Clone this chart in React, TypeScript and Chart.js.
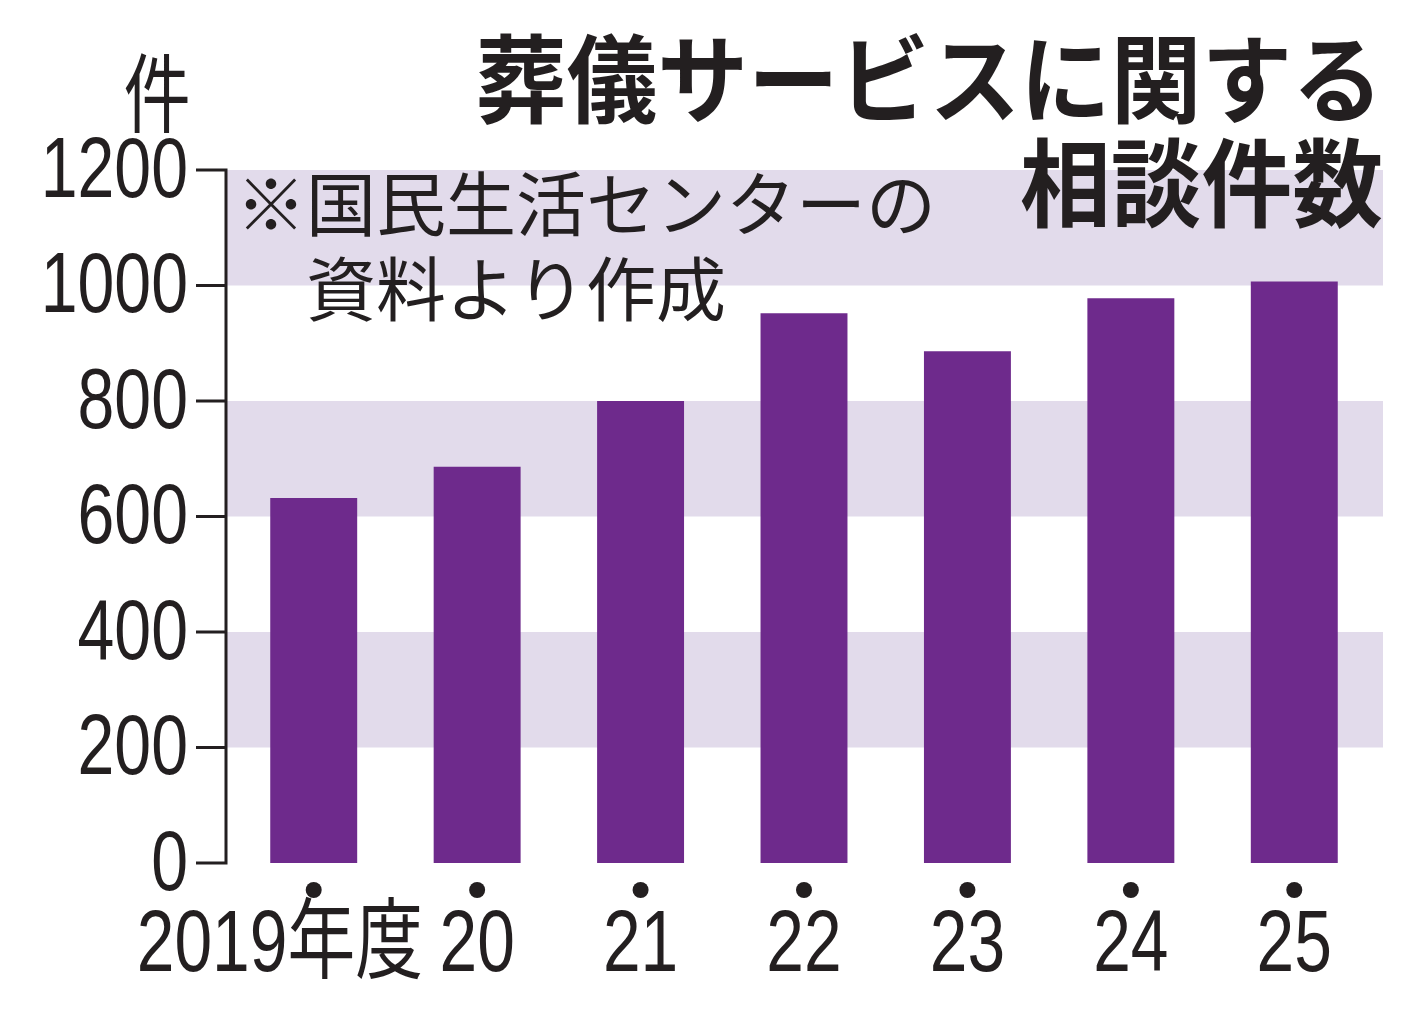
import { useEffect, useRef } from "react"
import { Chart, registerables } from "chart.js"

Chart.register(...registerables)

// 葬儀サービスに関する相談件数 (国民生活センター)
const years = ["2019年度\u3000", "20", "21", "22", "23", "24", "25"]
const consultations = [632, 686, 800, 952, 886, 978, 1007]
const yTicks = [0, 200, 400, 600, 800, 1000, 1200]
const titleLines = ["葬儀サービスに関する", "相談件数"]
const noteLines = ["※国民生活センターの", "\u3000資料より作成"]
const unitLabel = "件"

const INK = "#231f20"
const BAR = "#6e2a8c"
const BAND = "#e2dbeb"
const NUM_FONT = "'Liberation Sans', 'Noto Sans CJK JP', sans-serif"
const JP_FONT = "'Noto Sans CJK JP', sans-serif"
const CONDENSE = 0.77

// the newspaper figures use condensed numerals: squeeze each tick label around its own anchor
function condenseLabels(scale: any, k: number) {
  if (scale._condensed) return
  scale._condensed = true
  const drawLabels = scale.drawLabels.bind(scale)
  scale.drawLabels = (area: any) => {
    const ctx = scale.ctx
    const fill = ctx.fillText
    ctx.fillText = function (text: string, x: number, y: number, w?: number) {
      this.save()
      this.translate(x, y)
      this.scale(k, 1)
      if (w === undefined) fill.call(this, text, 0, 0)
      else fill.call(this, text, 0, 0, w / k)
      this.restore()
    }
    drawLabels(area)
    delete ctx.fillText
  }
}

// shaded bands, y axis with outside ticks, dots under the bars, titles and notes
const decorations = {
  id: "decorations",
  beforeDraw(chart: any) {
    condenseLabels(chart.scales.x, CONDENSE)
    condenseLabels(chart.scales.y, CONDENSE)
  },
  beforeDatasetsDraw(chart: any) {
    const { ctx, chartArea, scales } = chart
    const y = scales.y
    const left = chartArea.left - 6
    const right = chartArea.right + 7
    ctx.save()
    ctx.fillStyle = BAND
    for (let i = 1; i + 1 < yTicks.length; i += 2) {
      const bottom = y.getPixelForValue(yTicks[i])
      const top = y.getPixelForValue(yTicks[i + 1])
      ctx.fillRect(left, top, right - left, bottom - top)
    }
    ctx.restore()
  },
  afterDraw(chart: any) {
    const { ctx, chartArea, scales } = chart
    const x = scales.x
    const y = scales.y
    const axisX = chartArea.left - 6

    ctx.save()
    ctx.strokeStyle = INK
    ctx.lineWidth = 3
    ctx.beginPath()
    ctx.moveTo(axisX, y.getPixelForValue(yTicks[yTicks.length - 1]) - 1.5)
    ctx.lineTo(axisX, y.getPixelForValue(0) + 1.5)
    yTicks.forEach((v) => {
      const py = y.getPixelForValue(v)
      ctx.moveTo(axisX - 30, py)
      ctx.lineTo(axisX, py)
    })
    ctx.stroke()

    ctx.fillStyle = INK
    years.forEach((_, i) => {
      ctx.beginPath()
      ctx.arc(x.getPixelForValue(i), chartArea.bottom + 27, 8, 0, Math.PI * 2)
      ctx.fill()
    })

    ctx.textBaseline = "middle"

    ctx.save()
    ctx.translate(157, 93)
    ctx.scale(0.78, 1)
    ctx.font = `400 86px ${JP_FONT}`
    ctx.textAlign = "center"
    ctx.fillText(unitLabel, 0, 0)
    ctx.restore()

    titleLines.forEach((line, i) => {
      ctx.save()
      ctx.translate(1383, 79 + i * 104)
      ctx.scale(0.945, 1)
      ctx.font = `700 96px ${JP_FONT}`
      ctx.textAlign = "right"
      ctx.fillText(line, 0, 0)
      ctx.restore()
    })

    ctx.font = `400 70px ${JP_FONT}`
    ctx.textAlign = "left"
    noteLines.forEach((line, i) => {
      ctx.fillText(line, 236, 204 + i * 85)
    })
    ctx.restore()
  },
}

export default function App() {
  const canvasRef = useRef<HTMLCanvasElement>(null)
  const chartRef = useRef<Chart | null>(null)

  useEffect(() => {
    if (!canvasRef.current) return
    if (chartRef.current) chartRef.current.destroy()

    chartRef.current = new Chart(canvasRef.current, {
      type: "bar",
      data: {
        labels: years,
        datasets: [
          {
            data: consultations,
            backgroundColor: BAR,
            borderWidth: 0,
            barPercentage: 0.532,
            categoryPercentage: 1,
          },
        ],
      },
      options: {
        responsive: true,
        maintainAspectRatio: false,
        animation: false,
        layout: { padding: { top: 170, right: 41, bottom: 0, left: 0 } },
        plugins: {
          legend: { display: false },
          tooltip: { enabled: false },
          title: { display: false },
        },
        scales: {
          x: {
            grid: { display: false, drawTicks: false },
            border: { display: false },
            ticks: {
              color: INK,
              font: { family: NUM_FONT, size: 88, lineHeight: 1 },
              padding: 40,
              maxRotation: 0,
              autoSkip: false,
            },
            afterFit: (s: any) => {
              s.height = 153
            },
          },
          y: {
            min: 0,
            max: 1200,
            grid: { display: false, drawTicks: false },
            border: { display: false },
            afterBuildTicks: (s: any) => {
              s.ticks = yTicks.map((v) => ({ value: v }))
            },
            ticks: {
              color: INK,
              font: { family: NUM_FONT, size: 86, lineHeight: 1 },
              padding: 44,
              labelOffset: 3,
              callback: (v: any) => String(v),
            },
            afterFit: (s: any) => {
              s.width = 232
            },
          },
        },
      },
      plugins: [decorations],
    })

    return () => {
      if (chartRef.current) {
        chartRef.current.destroy()
        chartRef.current = null
      }
    }
  }, [])

  return (
    <div style={{ position: "fixed", top: 0, left: 0, width: "1417px", height: "1016px", background: "#fff" }}>
      <canvas ref={canvasRef} />
    </div>
  )
}
